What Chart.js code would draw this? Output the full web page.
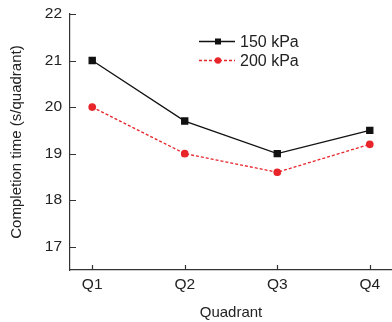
<!DOCTYPE html>
<html>
<head>
<meta charset="utf-8">
<script src="https://cdn.jsdelivr.net/npm/chart.js@4"></script>
<style>
  html, body { margin: 0; padding: 0; background: #fff; }
  #wrap { width: 392px; height: 322px; }
</style>
</head>
<body>
<div id="wrap"><canvas id="chart" width="392" height="322"></canvas></div>
<script>
// Data
const quadrants = ['Q1', 'Q2', 'Q3', 'Q4'];
const xPositions = [1, 2, 3, 4];
const series150 = [21.0, 19.7, 19.0, 19.5];
const series200 = [20.0, 19.0, 18.6, 19.2];
const yTicks = [17, 18, 19, 20, 21, 22];
const seriesNames = ['150 kPa', '200 kPa'];

const FONT = 'Liberation Sans, Arial, sans-serif';
const INK = '#222';

// inward tick marks + custom legend
const decorPlugin = {
    id: 'decor',
    afterDraw(chart) {
        const ctx = chart.ctx;
        const x = chart.scales.x, y = chart.scales.y;
        const area = chart.chartArea;
        ctx.save();
        ctx.strokeStyle = '#333';
        ctx.lineWidth = 1.2;
        ctx.beginPath();
        x.ticks.forEach(t => {
            const px = Math.round(x.getPixelForValue(t.value)) + 0.5;
            ctx.moveTo(px, area.bottom);
            ctx.lineTo(px, area.bottom - 5);
        });
        y.ticks.forEach(t => {
            const py = Math.round(y.getPixelForValue(t.value)) + 0.5;
            ctx.moveTo(area.left, py);
            ctx.lineTo(area.left + 6, py);
        });
        ctx.stroke();

        // legend
        const lx = 199, ly = [41.5, 60.5];
        const items = [
            { color: '#111', dash: [], style: 'rect' },
            { color: '#e8252a', dash: [3, 2], style: 'circle' }
        ];
        ctx.font = '16px ' + FONT;
        ctx.textBaseline = 'middle';
        items.forEach((it, i) => {
            ctx.strokeStyle = it.color;
            ctx.fillStyle = it.color;
            ctx.lineWidth = 1.3;
            ctx.setLineDash(it.dash);
            ctx.beginPath();
            ctx.moveTo(lx, ly[i]);
            ctx.lineTo(lx + 36, ly[i]);
            ctx.stroke();
            ctx.setLineDash([]);
            if (it.style === 'rect') {
                ctx.fillRect(lx + 16, ly[i] - 3, 6, 6);
            } else {
                ctx.beginPath();
                ctx.arc(lx + 19, ly[i], 3.2, 0, Math.PI * 2);
                ctx.fill();
            }
            ctx.fillStyle = INK;
            ctx.fillText(seriesNames[i], lx + 41, ly[i] + 1);
        });
        ctx.restore();
    }
};

new Chart(document.getElementById('chart'), {
    type: 'line',
    data: {
        datasets: [
            {
                label: seriesNames[0],
                data: xPositions.map((q, i) => ({ x: q, y: series150[i] })),
                borderColor: '#111',
                backgroundColor: '#111',
                borderWidth: 1.3,
                pointStyle: 'rect',
                pointRadius: 4.3,
                pointHoverRadius: 4.3
            },
            {
                label: seriesNames[1],
                data: xPositions.map((q, i) => ({ x: q, y: series200[i] })),
                borderColor: '#e8252a',
                backgroundColor: '#e8252a',
                borderWidth: 1.3,
                borderDash: [3, 2],
                pointStyle: 'circle',
                pointRadius: 3.2,
                pointHoverRadius: 3.2
            }
        ]
    },
    options: {
        responsive: false,
        animation: false,
        layout: { autoPadding: false, padding: { top: 14, right: 0, left: 0, bottom: 0 } },
        plugins: { legend: { display: false }, tooltip: { enabled: false } },
        scales: {
            x: {
                type: 'linear',
                min: 0.76,
                max: 4.24,
                afterBuildTicks: s => { s.ticks = xPositions.map(v => ({ value: v })); },
                afterFit: s => { s.height = 52; s.paddingLeft = 0; s.paddingRight = 0; },
                grid: { display: false, drawTicks: false },
                border: { display: true, color: '#333', width: 1.2 },
                ticks: {
                    padding: 5,
                    color: INK,
                    font: { family: FONT, size: 15.5 },
                    callback: v => quadrants[xPositions.indexOf(v)]
                },
                title: {
                    display: true,
                    text: 'Quadrant',
                    color: INK,
                    font: { family: FONT, size: 15 },
                    padding: { top: 4, bottom: 0 }
                }
            },
            y: {
                min: 16.5,
                max: 22,
                afterBuildTicks: s => { s.ticks = yTicks.map(v => ({ value: v })); },
                afterFit: s => { s.width = 70; s.paddingTop = 0; s.paddingBottom = 0; },
                grid: { display: false, drawTicks: false },
                border: { display: true, color: '#333', width: 1.2 },
                ticks: {
                    padding: 8,
                    color: INK,
                    font: { family: FONT, size: 15.5 }
                },
                title: {
                    display: true,
                    text: 'Completion time (s/quadrant)',
                    color: INK,
                    font: { family: FONT, size: 15 },
                    padding: { top: 8, bottom: 0 }
                }
            }
        }
    },
    plugins: [decorPlugin]
});
</script>
</body>
</html>
